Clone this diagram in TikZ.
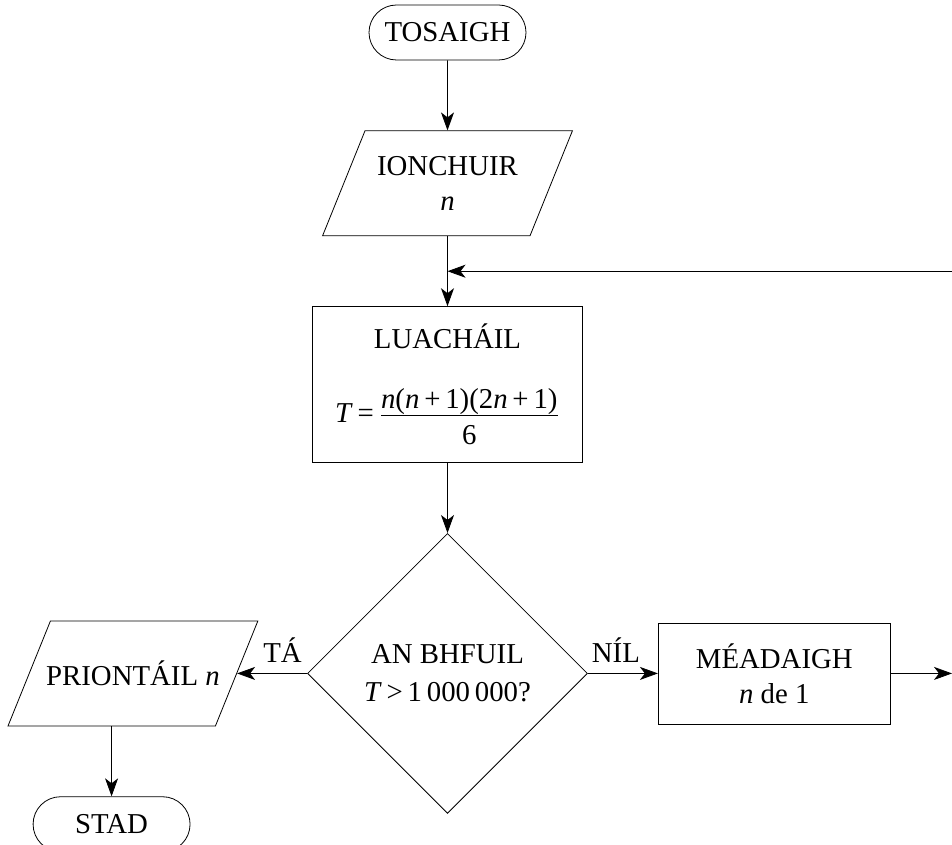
\documentclass[tikz,border=0pt]{standalone}
\usepackage{fontspec}
\setmainfont{Liberation Serif}
\usetikzlibrary{shapes.geometric, positioning, arrows.meta}
\newcommand{\inout}[1]{\parbox[c][52.5pt][c]{82.5pt}{\centering #1}} % fixed size for the slanted boxes
\tikzset{
    ->, % every connector ends in an arrow
    >={Stealth[length=9pt, width=6.5pt, inset=2.5pt]}, % arrow heads
    line width=1pt,
    node distance=35pt, % gap between two boxes
    every node/.style={font=\fontsize{14.4}{17.5}\selectfont, align=center},
    terminal/.style={draw, rounded corners=13.75pt, minimum width=78.5pt, minimum height=27.5pt, inner sep=0pt},
    data/.style={draw, trapezium, trapezium left angle=68, trapezium right angle=112, inner sep=0pt},
    process/.style={draw, rectangle, minimum width=135pt, minimum height=78pt, inner sep=0pt},
    decision/.style={draw, diamond, minimum width=140pt, minimum height=140pt, inner sep=0pt},
    answer/.style={above=2pt}, % TÁ / NÍL
}
\begin{document}
\begin{tikzpicture}
    \useasboundingbox (0,0) rectangle (476pt,-422.5pt);
    \coordinate (rim) at (476pt,0);

    \node[terminal] (tosaigh) at (223.75pt,-16.25pt) {TOSAIGH};
    \node[data, below=of tosaigh] (ionchuir) {\inout{IONCHUIR\\\textit{n}}};
    \node[process, below=of ionchuir] (luachail) {LUACHÁIL\\[19.5pt]
        \textit{T}\,=\,$\frac{\mbox{\textit{n}(\textit{n}\,+\,1)(2\textit{n}\,+\,1)}}{\mbox{\rule{0pt}{14pt}6}}$};
    \node[decision, below=of luachail] (bhfuil) {AN BHFUIL\\[1.5pt]\textit{T}\,>\,1\,000\,000?};
    \node[data, left=of bhfuil] (priontail) {\inout{\makebox[0pt]{PRIONTÁIL \textit{n}}}};
    \node[terminal, below=of priontail.bottom side] (stad) {STAD};
    \node[process, right=of bhfuil, minimum width=116pt, minimum height=50.5pt] (meadaigh) {MÉADAIGH\\\textit{n} de 1};

    \path (ionchuir.south) -- coordinate[midway] (join) (luachail.north);

    \draw (tosaigh) -- (ionchuir);
    \draw (ionchuir) -- (luachail);
    \draw (luachail) -- (bhfuil);
    \draw (bhfuil) -- node[answer, pos=0.35]{TÁ} (priontail);
    \draw (bhfuil) -- node[answer, pos=0.4]{NÍL} (meadaigh);
    \draw (priontail.bottom side) -- (stad);
    \draw (meadaigh) -- (meadaigh -| rim);
    \draw (join -| rim) -- (join);
\end{tikzpicture}
\end{document}
